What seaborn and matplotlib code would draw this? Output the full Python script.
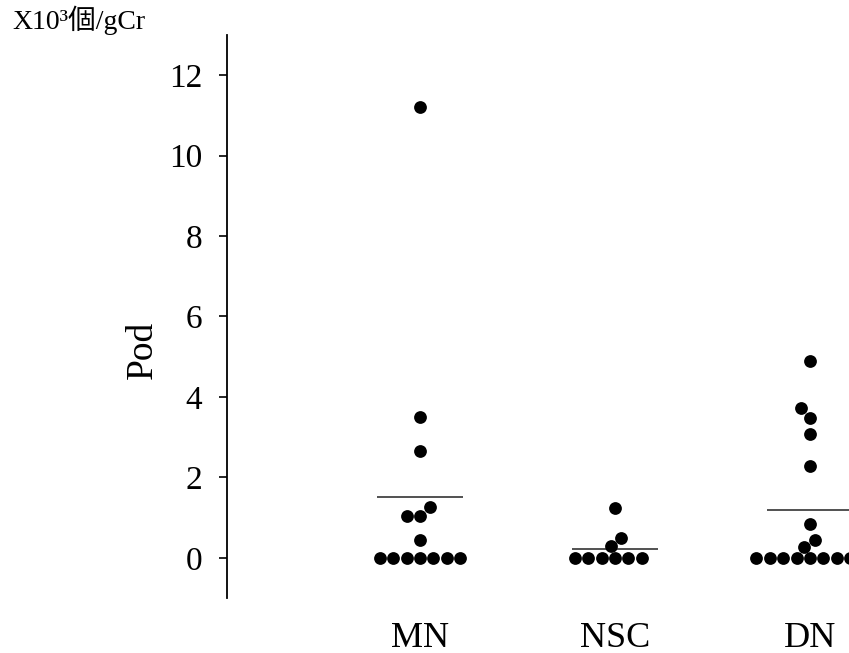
import matplotlib
matplotlib.use("Agg")
import matplotlib.pyplot as plt
import seaborn as sns
import pandas as pd
import numpy as np

categories = ["MN", "NSC", "DN"]
mn_values = [11.2, 3.49, 2.66, 1.27, 1.05, 1.05, 0.44, 0, 0, 0, 0, 0, 0, 0]
nsc_values = [1.25, 0.5, 0.3, 0, 0, 0, 0, 0, 0]
dn_values = [4.9, 3.72, 3.48, 3.08, 2.27, 0.85, 0.45, 0.28, 0, 0, 0, 0, 0, 0, 0, 0]
y_ticks = [0, 2, 4, 6, 8, 10, 12]

groups = {"MN": mn_values, "NSC": nsc_values, "DN": dn_values}
df = pd.DataFrame({
    "group": [g for g in categories for _ in groups[g]],
    "value": [v for g in categories for v in groups[g]],
})

sns.set_theme(style="white")
plt.rcParams["font.family"] = ["Liberation Serif", "Noto Sans CJK JP"]
plt.rcParams["text.color"] = "black"
plt.rcParams["axes.labelcolor"] = "black"
plt.rcParams["xtick.color"] = "black"
plt.rcParams["ytick.color"] = "black"

fig = plt.figure(figsize=(8.49, 6.53), dpi=100)
ax = fig.add_axes([227/849, 55/653, 622/849, 563/653])

sns.swarmplot(data=df, x="group", y="value", order=categories, color="black",
              size=9.2, ax=ax, linewidth=0)

for i, g in enumerate(categories):
    m = float(np.mean(groups[g]))
    ax.hlines(m, i - 0.22, i + 0.22, color="#333333", linewidth=1.2, zorder=1)

ax.set_xlim(-0.99, 2.2)
ax.set_ylim(-1, 13)
ax.set_yticks(y_ticks)
ax.set_yticklabels([str(t) for t in y_ticks], fontsize=24)
ax.tick_params(axis="y", direction="out", length=6, width=1.2, color="black", pad=12, left=True)
ax.tick_params(axis="x", length=0, pad=17, labelsize=26)
for s in ["top", "right", "bottom"]:
    ax.spines[s].set_visible(False)
ax.spines["left"].set_color("black")
ax.spines["left"].set_linewidth(1.3)
ax.set_xlabel("")
ax.set_ylabel("Pod", fontsize=27)
ax.yaxis.set_label_coords(-0.108, 0.44)

fig.text(12/849, 1 - 20/653, "X10³個/gCr", fontsize=20, va="center", ha="left")

fig.savefig("out.png", dpi=100)
